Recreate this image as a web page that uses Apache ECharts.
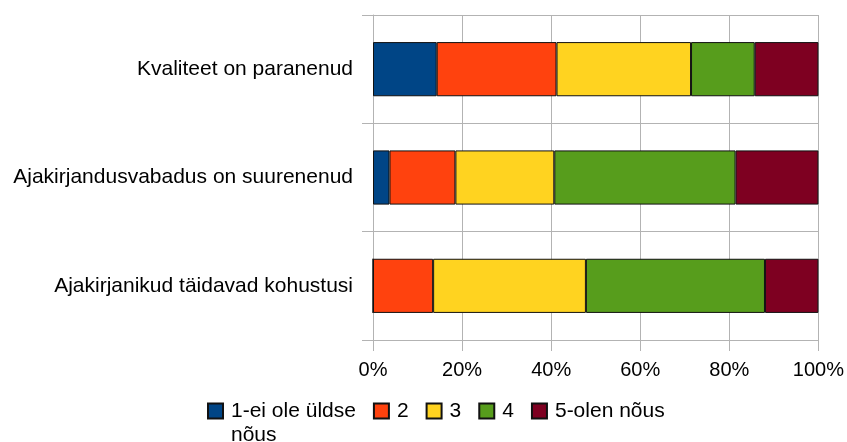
<!DOCTYPE html>
<html lang="et">
   <head>
      <title>Ajakirjandus</title>
      <meta charset="utf-8">
      <script type="text/javascript" src="https://cdn.jsdelivr.net/npm/echarts@6/dist/echarts.min.js"></script>
   </head>
   <body style="margin:0; background:#fff">
      <div id="chart1" style="width: 847px; height: 442px;"></div>

      <script type="text/javascript">
         // statements, top to bottom
         let categories = ['Kvaliteet on paranenud', 'Ajakirjandusvabadus on suurenenud', 'Ajakirjanikud täidavad kohustusi'];
         let seriesNames = ['1-ei ole üldse nõus', '2', '3', '4', '5-olen nõus'];
         // shares in %, one array per answer
         let s1 = [14.3, 3.7, 0];
         let s2 = [26.9, 14.8, 13.5];
         let s3 = [30.2, 22.2, 34.3];
         let s4 = [14.3, 40.7, 40.2];
         let s5 = [14.3, 18.6, 12.0];
         let xTicks = [0, 20, 40, 60, 80, 100];

         let color = ['#004586', '#ff420e', '#ffd320', '#579d1c', '#7e0021'];
         let values = [s1, s2, s3, s4, s5];
         let font = 'Liberation Sans, Arial, sans-serif';

         let dom1 = document.getElementById('chart1');
         let myChart1 = echarts.init(dom1);

         let option1 = {
             animation: false,
             color: color,
             grid: {
                 left: 373,
                 right: 28,
                 top: 15,
                 bottom: 102
             },
             legend: {
                 left: 202,
                 top: 370,
                 icon: 'rect',
                 itemWidth: 15,
                 itemHeight: 15,
                 itemGap: 17,
                 data: seriesNames,
                 // long name wraps; empty first line keeps line one level with the icon
                 formatter: function (name) {
                     return name === '1-ei ole üldse nõus' ? '\n1-ei ole üldse\nnõus' : name;
                 },
                 textStyle: {
                     fontFamily: font,
                     fontSize: 21,
                     color: '#000',
                     lineHeight: 24,
                     padding: [0, 0, 0, 3]
                 }
             },
             xAxis: {
                 type: 'value',
                 min: xTicks[0],
                 max: xTicks[xTicks.length - 1],
                 interval: 20,
                 axisLine: { show: true, lineStyle: { color: '#b3b3b3' } },
                 axisTick: { show: true, length: 11, lineStyle: { color: '#b3b3b3' } },
                 splitLine: { show: true, lineStyle: { color: '#b3b3b3' } },
                 axisLabel: {
                     formatter: '{value}%',
                     margin: 20,
                     fontFamily: font,
                     fontSize: 20,
                     color: '#000'
                 }
             },
             yAxis: {
                 type: 'category',
                 inverse: true,
                 data: categories,
                 axisLine: { show: true, lineStyle: { color: '#b3b3b3' } },
                 axisTick: { show: true, length: 11, lineStyle: { color: '#b3b3b3' } },
                 splitLine: { show: true, lineStyle: { color: '#b3b3b3' } },
                 axisLabel: {
                     margin: 20,
                     fontFamily: font,
                     fontSize: 21,
                     color: '#000'
                 }
             },
             series: seriesNames.map(function (name, i) {
                 return {
                     name: name,
                     type: 'bar',
                     stack: 'total',
                     barWidth: '50%',
                     data: values[i],
                     itemStyle: {
                         borderColor: '#111',
                         borderWidth: 1
                     }
                 };
             })
         };

         myChart1.setOption(option1);
      </script>
   </body>
</html>
